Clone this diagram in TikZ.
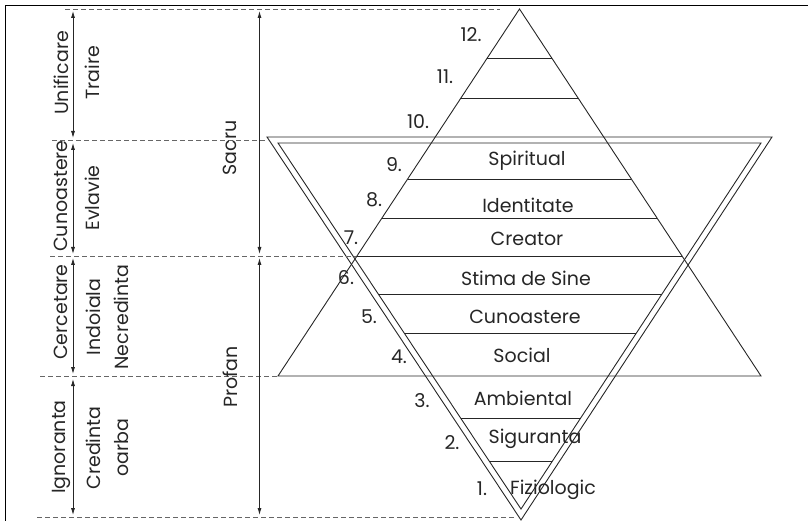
\documentclass[tikz,border=0pt]{standalone}
\usepackage{fontspec}
\setmainfont{Poppins}
\usetikzlibrary{arrows.meta,calc}
\begin{document}
\begin{tikzpicture}[x=1pt,y=-1pt,
  ln/.style={line width=0.9pt, black!85},
  guide/.style={dash pattern=on 5pt off 3pt, line width=0.9pt, black!60},
  dimarrow/.style={{Latex[length=7pt,width=4pt]}-{Latex[length=7pt,width=4pt]}, line width=0.8pt, black!85},
  lbl/.style={font=\fontsize{19}{24}\selectfont, inner sep=0pt, text=black!85},
  vlbl/.style={lbl, rotate=90, align=center}]
\useasboundingbox (0,0) rectangle (808,521);
% frame
\draw[line width=1pt] (5,521) -- (5,6) -- (808,6);
% upright triangle
\coordinate (UA) at (519.5,9);
\coordinate (UL) at (278,376);
\coordinate (UR) at (761,376);
\draw[ln] (UA) -- (UL) -- (UR) -- cycle;
% inverted triangle, double line
\coordinate (OL) at (267,137);
\coordinate (OR) at (772,137);
\coordinate (OB) at (521,520);
\coordinate (IL) at (278,143);
\coordinate (IR) at (761,143);
\coordinate (IB) at (521,509);
\draw[ln] (OL) -- (OR) -- (OB) -- cycle;
\draw[ln] (IL) -- (IR) -- (IB) -- cycle;
% level lines in the upper part
\foreach \t in {0.1335,0.2425,0.4632,0.5695,0.6730}
  \draw[ln] ($(UA)!\t!(UL)$) -- ($(UA)!\t!(UR)$);
% level lines in the lower part
\foreach \t in {0.4126,0.5191,0.7514,0.8689}
  \draw[ln] ($(IL)!\t!(IB)$) -- ($(IR)!\t!(IB)$);
% dashed guides
\coordinate (g1a) at (65,9);   \coordinate (g1b) at (500,9);
\coordinate (g2a) at (52,140);  \coordinate (g2b) at (268,140);
\coordinate (g3a) at (50,256);  \coordinate (g3b) at (356,256);
\coordinate (g4a) at (40,376);  \coordinate (g4b) at (278,376);
\coordinate (g5a) at (37,517);  \coordinate (g5b) at (514,517);
\draw[guide] (g1a) -- (g1b);
\draw[guide] (g2a) -- (g2b);
\draw[guide] (g3a) -- (g3b);
\draw[guide] (g4a) -- (g4b);
\draw[guide] (g5a) -- (g5b);
% dimension arrows
\coordinate (a1) at (73,11);  \coordinate (a2) at (73,138);
\coordinate (a3) at (73,143); \coordinate (a4) at (73,254);
\coordinate (a5) at (73,258); \coordinate (a6) at (73,374);
\coordinate (a7) at (73,379); \coordinate (a8) at (73,515);
\draw[dimarrow] (a1) -- (a2);
\draw[dimarrow] (a3) -- (a4);
\draw[dimarrow] (a5) -- (a6);
\draw[dimarrow] (a7) -- (a8);
\coordinate (b1) at (259.5,11);  \coordinate (b2) at (259.5,254);
\coordinate (b3) at (259.5,258); \coordinate (b4) at (259.5,515);
\draw[dimarrow] (b1) -- (b2);
\draw[dimarrow] (b3) -- (b4);
% vertical labels
\node[vlbl] (unif) at (61,73) {Unificare};
\node[vlbl] (cunl) at (61,196) {Cunoastere};
\node[vlbl] (cerc) at (61,312) {Cercetare};
\node[vlbl] (igno) at (61,447) {Ignoranta};
\node[vlbl] (trai) at (92,73) {Traire};
\node[vlbl] (evla) at (92,198) {Evlavie};
\node[vlbl] (indo) at (107,317) {Indoiala\\[4pt]Necredinta};
\node[vlbl] (cred) at (107,448) {Credinta\\[4pt]oarba};
\node[vlbl] (sacr) at (230,148) {Sacru};
\node[vlbl] (prof) at (230,377) {Profan};
% numbers
\node[lbl] (n12) at (471,35) {12.};
\node[lbl] (n11) at (445,77) {11.};
\node[lbl] (n10) at (418,122) {10.};
\node[lbl] (n9) at (394,165) {9.};
\node[lbl] (n8) at (374,200) {8.};
\node[lbl] (n7) at (351,238) {7.};
\node[lbl] (n6) at (346,278) {6.};
\node[lbl] (n5) at (369,317) {5.};
\node[lbl] (n4) at (399,357) {4.};
\node[lbl] (n3) at (422,401) {3.};
\node[lbl] (n2) at (452,443) {2.};
\node[lbl] (n1) at (482,489) {1.};
% level names
\node[lbl] (l9) at (527,161) {Spiritual};
\node[lbl] (l8) at (528,205) {Identitate};
\node[lbl] (l7) at (527,239) {Creator};
\node[lbl] (l6) at (526,278) {Stima de Sine};
\node[lbl] (l5) at (525,317) {Cunoastere};
\node[lbl] (l4) at (522,355) {Social};
\node[lbl] (l3) at (523,398) {Ambiental};
\node[lbl] (l2) at (535,439) {Siguranta};
\node[lbl] (l1) at (553,490) {Fiziologic};
\end{tikzpicture}
\end{document}
